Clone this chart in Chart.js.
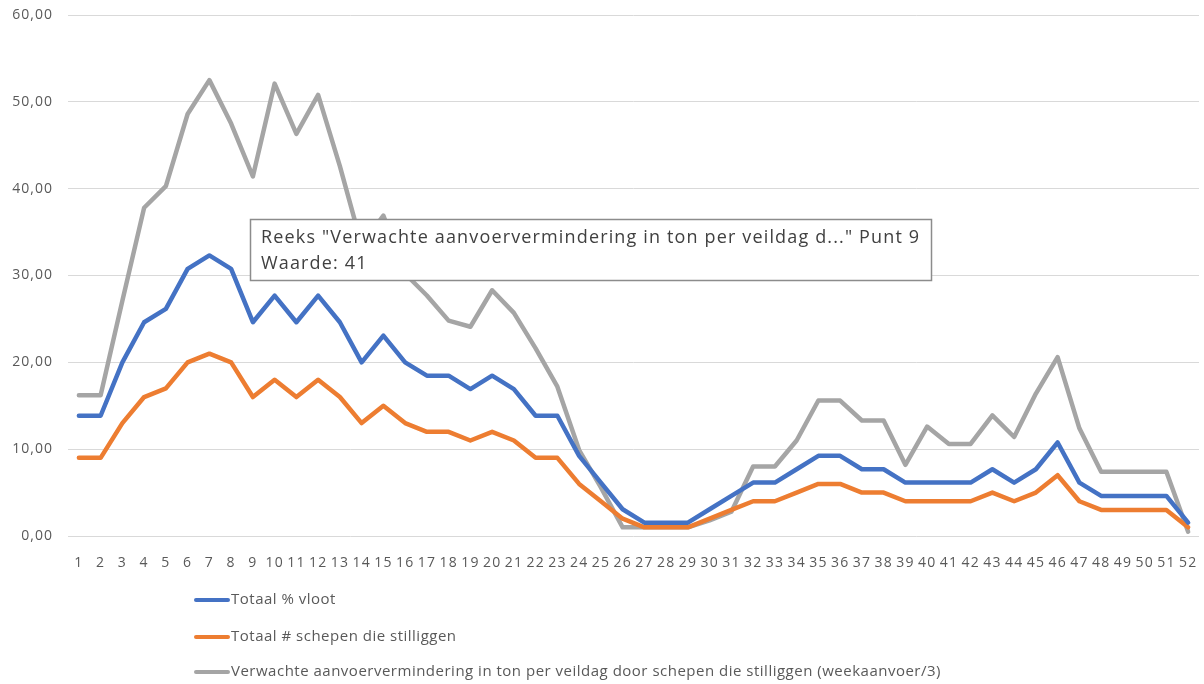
<!DOCTYPE html>
<html>
<head>
<meta charset="utf-8">
<script src="https://cdn.jsdelivr.net/npm/chart.js@4/dist/chart.umd.min.js"></script>
<style>
  html, body { margin: 0; padding: 0; background: #fff; }
  #wrap { width: 1204px; height: 684px; }
</style>
</head>
<body>
<div id="wrap"><canvas id="grafiek"></canvas></div>
<script>
const weken = [];
for (let i = 1; i <= 52; i++) weken.push(String(i));

const totaalVloot = [
  13.85, 13.85, 20.00, 24.62, 26.15, 30.77, 32.31, 30.77, 24.62, 27.69,
  24.62, 27.69, 24.62, 20.00, 23.08, 20.00, 18.46, 18.46, 16.92, 18.46,
  16.92, 13.85, 13.85, 9.23, 6.15, 3.08, 1.54, 1.54, 1.54, 3.08,
  4.62, 6.15, 6.15, 7.69, 9.23, 9.23, 7.69, 7.69, 6.15, 6.15,
  6.15, 6.15, 7.69, 6.15, 7.69, 10.77, 6.15, 4.62, 4.62, 4.62,
  4.62, 1.54
];

const schepenStil = [
  9, 9, 13, 16, 17, 20, 21, 20, 16, 18,
  16, 18, 16, 13, 15, 13, 12, 12, 11, 12,
  11, 9, 9, 6, 4, 2, 1, 1, 1, 2,
  3, 4, 4, 5, 6, 6, 5, 5, 4, 4,
  4, 4, 5, 4, 5, 7, 4, 3, 3, 3,
  3, 1
];

const aanvoerVermindering = [
  16.2, 16.2, 27.1, 37.8, 40.3, 48.6, 52.5, 47.5, 41.4, 52.1,
  46.3, 50.8, 42.6, 33.5, 36.9, 30.2, 27.7, 24.8, 24.1, 28.3,
  25.7, 21.6, 17.2, 9.9, 5.6, 1.0, 1.0, 1.0, 1.0, 1.8,
  2.8, 8.0, 8.0, 11.0, 15.6, 15.6, 13.3, 13.3, 8.2, 12.6,
  10.6, 10.6, 13.9, 11.4, 16.4, 20.6, 12.4, 7.4, 7.4, 7.4,
  7.4, 0.5
];

const yTicks = [0, 10, 20, 30, 40, 50, 60];

const reeksNamen = [
  'Totaal % vloot',
  'Totaal # schepen die stilliggen',
  'Verwachte aanvoervermindering in ton per veildag door schepen die stilliggen (weekaanvoer/3)'
];

const tipRegels = [
  'Reeks "Verwachte aanvoervermindering in ton per veildag d..." Punt 9',
  'Waarde: 41'
];

const kleuren = ['#4472C4', '#ED7D31', '#A5A5A5'];
const tekstKleur = '#595959';
const fontFam = '"Open Sans", "Liberation Sans", sans-serif';

// iets ruimere letters voor de as-labels, zoals in excel
const spatiePlugin = {
  id: 'letterSpatie',
  beforeDraw(chart) { chart.ctx.letterSpacing = '1px'; },
  afterDatasetsDraw(chart) { chart.ctx.letterSpacing = '0px'; }
};

// legenda onder de grafiek, verticaal
const legendaPlugin = {
  id: 'legendaOnder',
  afterDraw(chart) {
    const ctx = chart.ctx;
    const rijen = [600, 637, 672];
    ctx.save();
    chart.data.datasets.forEach((ds, i) => {
      const y = rijen[i];
      ctx.strokeStyle = ds.borderColor;
      ctx.lineWidth = 4;
      ctx.lineCap = 'round';
      ctx.beginPath();
      ctx.moveTo(196, y);
      ctx.lineTo(228, y);
      ctx.stroke();
      ctx.fillStyle = tekstKleur;
      ctx.font = '15px ' + fontFam;
      ctx.letterSpacing = '0.5px';
      ctx.textBaseline = 'middle';
      ctx.textAlign = 'left';
      ctx.fillText(ds.label, 231, y);
    });
    ctx.restore();
  }
};

// het vastgezette tooltipvak uit excel
const tipPlugin = {
  id: 'tipVak',
  afterDraw(chart) {
    const ctx = chart.ctx;
    ctx.save();
    ctx.fillStyle = '#ffffff';
    ctx.fillRect(250, 219, 682, 62);
    ctx.strokeStyle = '#8c8c8c';
    ctx.lineWidth = 1.5;
    ctx.strokeRect(250.5, 219.5, 681, 61);
    ctx.fillStyle = '#404040';
    ctx.font = '18px ' + fontFam;
    ctx.letterSpacing = '1.15px';
    ctx.textBaseline = 'middle';
    ctx.textAlign = 'left';
    ctx.fillText(tipRegels[0], 261, 238);
    ctx.fillText(tipRegels[1], 261, 264);
    ctx.restore();
  }
};

const ctx = document.getElementById('grafiek').getContext('2d');

const grafiek = new Chart(ctx, {
  type: 'line',
  data: {
    labels: weken,
    datasets: [
      { label: reeksNamen[0], data: totaalVloot, borderColor: kleuren[0] },
      { label: reeksNamen[1], data: schepenStil, borderColor: kleuren[1] },
      { label: reeksNamen[2], data: aanvoerVermindering, borderColor: kleuren[2] }
    ].map(d => Object.assign(d, {
      borderWidth: 4.5,
      pointRadius: 0,
      borderJoinStyle: 'round',
      borderCapStyle: 'round',
      tension: 0,
      fill: false
    }))
  },
  options: {
    responsive: true,
    maintainAspectRatio: false,
    animation: false,
    layout: { padding: { top: 15, right: 5, bottom: 108, left: 0 } },
    plugins: {
      legend: { display: false },
      tooltip: { enabled: false }
    },
    scales: {
      x: {
        offset: true,
        grid: { display: false },
        border: { display: false },
        ticks: {
          color: tekstKleur,
          font: { size: 14, family: fontFam },
          padding: 11,
          maxRotation: 0,
          autoSkip: false
        },
        afterFit: s => { s.height = 40; s.paddingRight = 0; }
      },
      y: {
        min: 0,
        max: 60,
        afterBuildTicks: s => { s.ticks = yTicks.map(v => ({ value: v })); },
        grid: { color: '#D9D9D9', lineWidth: 1, drawTicks: false },
        border: { display: false },
        ticks: {
          color: tekstKleur,
          font: { size: 14, family: fontFam },
          padding: 15,
          callback: v => v.toFixed(2).replace('.', ',')
        },
        afterFit: s => { s.width = 68; s.paddingTop = 0; s.paddingBottom = 0; }
      }
    }
  },
  plugins: [spatiePlugin, legendaPlugin, tipPlugin]
});
</script>
</body>
</html>
